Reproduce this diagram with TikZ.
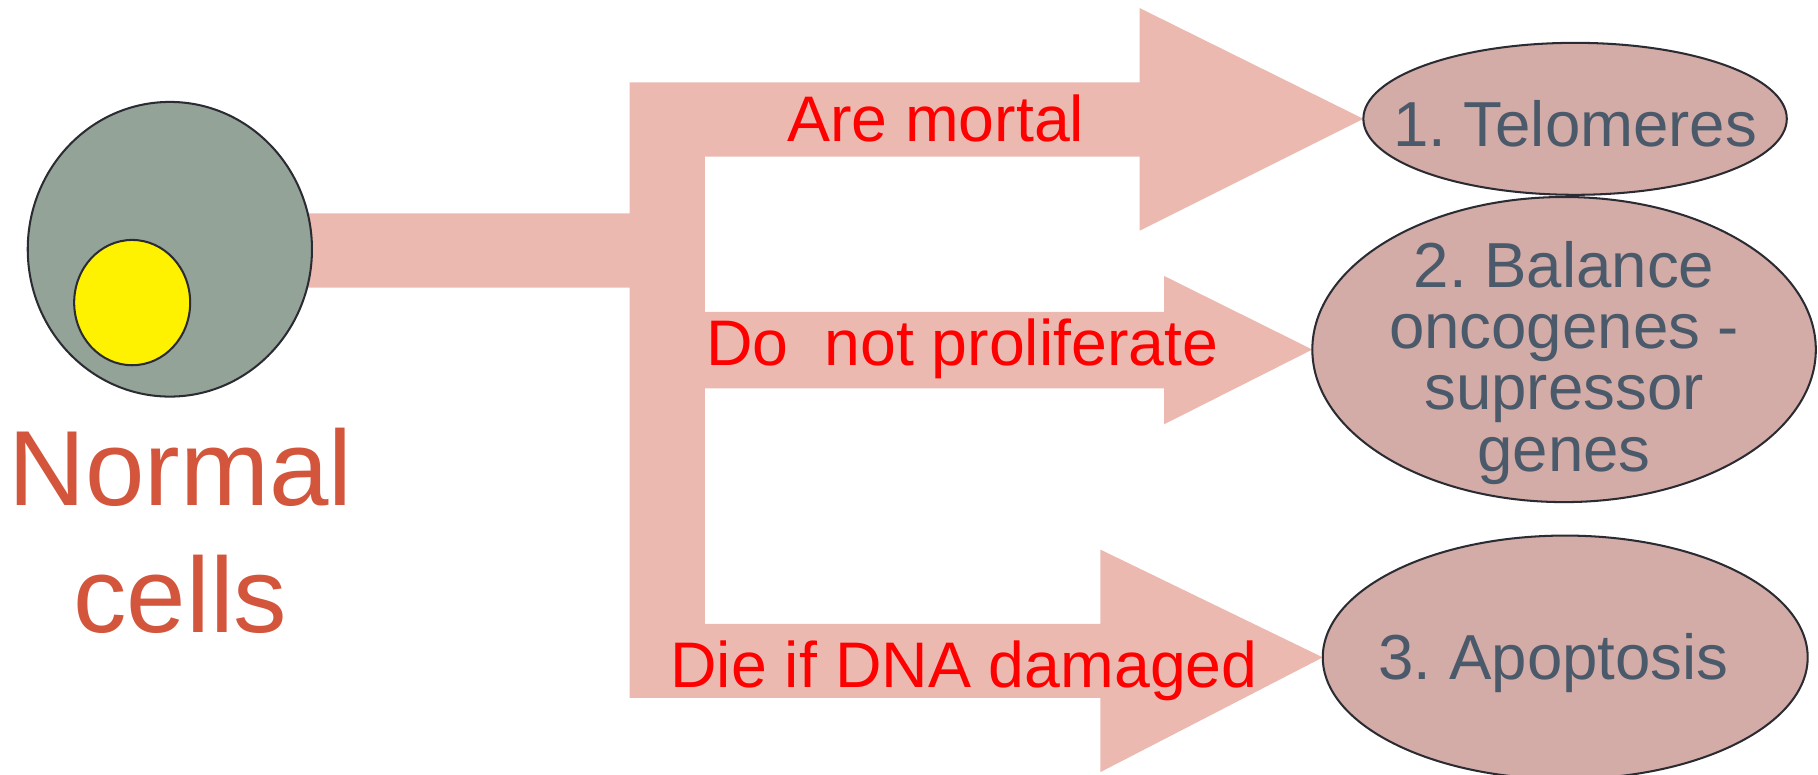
\documentclass[tikz,border=0pt]{standalone}
\usepackage{fontspec}
\setmainfont{Liberation Sans}
\usetikzlibrary{shapes.geometric,backgrounds}
\definecolor{flow}{HTML}{ECB9B0}
\definecolor{bubble}{HTML}{D3ACA7}
\definecolor{cytoplasm}{HTML}{93A398}
\definecolor{slate}{HTML}{4B5A6A}
\definecolor{rust}{HTML}{D2553C}
\definecolor{rim}{HTML}{2B2B33}
\frenchspacing
\begin{document}
\begin{tikzpicture}[x=0.01cm,y=-0.01cm,
  outline/.style={draw=rim, line width=0.5pt},
  bubble/.style={ellipse, outline, fill=bubble, inner sep=0pt, outer sep=0pt},
  result/.style={text=slate, font=\fontsize{15.6}{15}\selectfont, align=center, inner sep=0pt},
  reason/.style={anchor=base, text=red, font=\fontsize{15.8}{18}\selectfont, inner sep=0pt},
]
\useasboundingbox (0,0) rectangle (1568,668);

% the cell with its nucleus
\node[ellipse, outline, fill=cytoplasm, minimum width=2.45cm, minimum height=2.54cm, inner sep=0pt] (cell) at (146.5,215) {};
\node[ellipse, outline, fill=yellow, minimum width=1.00cm, minimum height=1.08cm, inner sep=0pt] (nucleus) at (114,261) {};
\node[text=rust, font=\fontsize{26.2}{31.15}\selectfont, align=center, inner sep=0pt] (title) at (155.6,457.5) {Normal\\cells};

% the three outcomes
\node[bubble, minimum width=3.65cm, minimum height=1.31cm] (e1) at (1358.5,102.5) {};
\node[bubble, minimum width=4.34cm, minimum height=2.63cm] (e2) at (1349,301.5) {};
\node[bubble, minimum width=4.18cm, minimum height=2.10cm] (e3) at (1350,567) {};
\node[result, anchor=base] (t1) at (1358.5,126.5) {1. Telomeres};
\node[result] (t2) at (1349,313) {2. Balance\\oncogenes -\\supressor\\genes};
\node[result, anchor=base] (t3) at (1340,586.5) {3. Apoptosis};

% branching block arrow from the cell to each outcome
\begin{scope}[on background layer]
\coordinate (stem) at (146,184);
\fill[flow] (stem) -- (543,184) -- (543,71) -- (983,71) -- (983,7) -- (e1.west)
  -- (983,199) -- (983,135) -- (608,135) -- (608,269) -- (1004,269) -- (1004,238)
  -- (e2.west) -- (1004,366) -- (1004,335) -- (608,335) -- (608,538) -- (949,538)
  -- (949,474) -- (e3.west) -- (949,666) -- (949,602) -- (543,602) -- (543,248)
  -- (146,248) -- cycle;
\end{scope}

\node[reason] (l1) at (807,122) {Are mortal};
\node[reason] (l2) at (830,315.4) {Do\ \ not proliferate};
\node[reason] (l3) at (831.5,592.6) {Die if DNA damaged};
\end{tikzpicture}
\end{document}
